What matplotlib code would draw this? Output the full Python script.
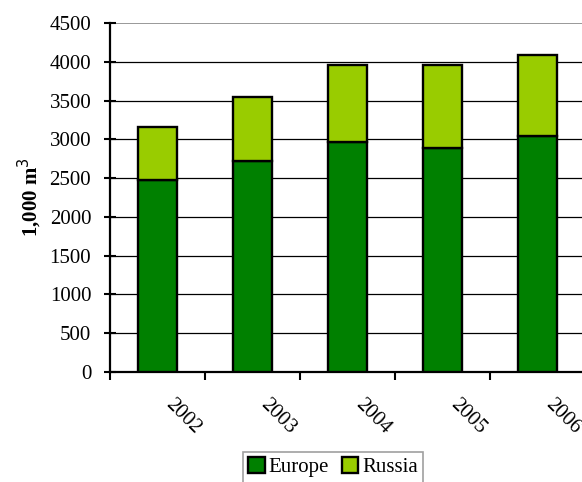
import matplotlib
matplotlib.use("Agg")
import matplotlib.pyplot as plt
import matplotlib.transforms as mtransforms

years = ["2002", "2003", "2004", "2005", "2006"]
europe = [2470, 2720, 2965, 2890, 3040]
russia = [690, 820, 995, 1070, 1050]

plt.rcParams['font.family'] = ['Liberation Serif', 'DejaVu Serif']

fig = plt.figure(figsize=(5.82, 4.82), dpi=100)
ax = fig.add_axes([110/582, (482-372)/482, 475/582, 349/482])

x = list(range(len(years)))
ax.bar(x, europe, width=0.41, color="#008000", edgecolor="black", linewidth=1.7, label="Europe", zorder=3)
ax.bar(x, russia, bottom=europe, width=0.41, color="#99CC00", edgecolor="black", linewidth=1.7, label="Russia", zorder=3)

ax.set_xlim(-0.5, 4.5)
ax.set_ylim(0, 4500)
ax.set_yticks(range(0, 4501, 500))
for v in range(500, 4001, 500):
    ax.axhline(v, color="black", linewidth=0.9, zorder=1)
ax.axhline(4500, color="#888888", linewidth=1.2, zorder=1)

for s in ["top", "right"]:
    ax.spines[s].set_visible(False)
ax.spines["left"].set_linewidth(1.6)
ax.spines["bottom"].set_linewidth(1.6)
ax.tick_params(axis="y", direction="inout", length=9, width=1.5, labelsize=15, pad=9)
ax.set_xticks([i - 0.5 for i in range(5)])
ax.set_xticklabels([])
ax.tick_params(axis="x", direction="out", length=6, width=1.5)

offset = mtransforms.offset_copy(ax.transData, fig=fig, x=11, y=-30, units="dots")
for i, yr in enumerate(years):
    ax.text(i, 0, yr, rotation=-45, ha="left", va="center", rotation_mode="anchor",
            fontsize=15, transform=offset)

ax.set_ylabel("1,000 m$^3$", fontsize=15, fontweight="bold")
ax.yaxis.set_label_coords(-0.138, 0.5)

leg = fig.legend(loc="upper center", bbox_to_anchor=(333/582, 1 - 452/482), ncol=2,
                 fontsize=15, frameon=True, fancybox=False, edgecolor="#888888",
                 handlelength=0.8, handleheight=0.8, handletextpad=0.2, columnspacing=0.6,
                 borderpad=0.25, borderaxespad=0)
leg.get_frame().set_linewidth(1.2)

fig.savefig("out.png", dpi=100)
